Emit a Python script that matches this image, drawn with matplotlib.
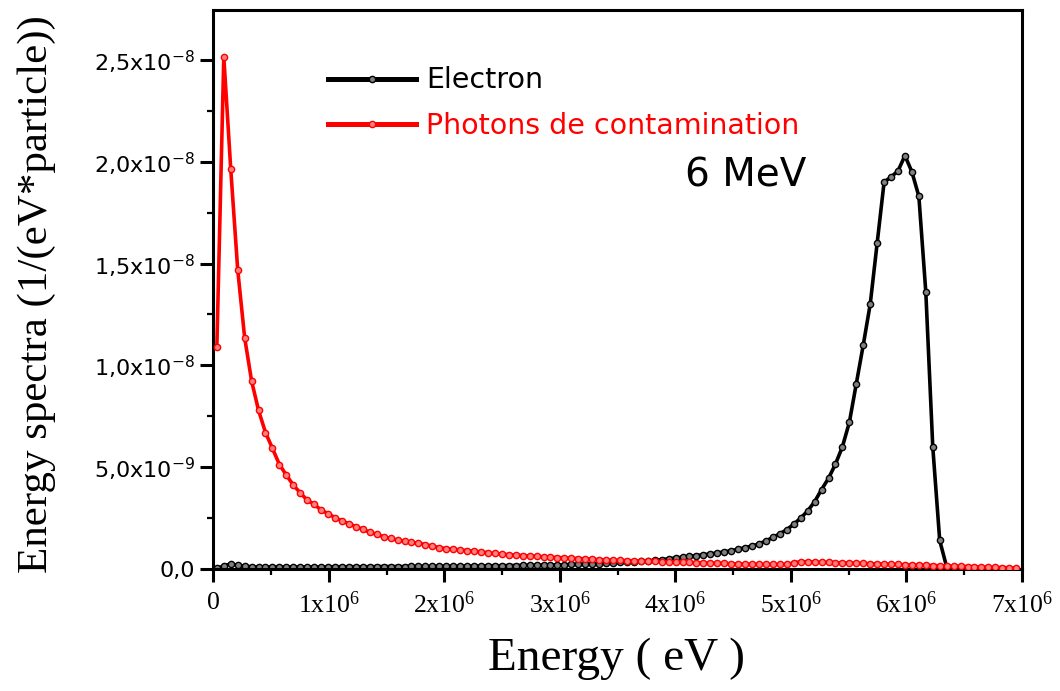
import numpy as np
import matplotlib
matplotlib.use("Agg")
import matplotlib.pyplot as plt
from matplotlib.ticker import FixedLocator, FixedFormatter, MultipleLocator

# Energy grid (bin centres, MeV)
energy_mev = np.linspace(0.03, 6.95, 116)

# Spectra in units of 1e-8 per (eV*particle)
electron = [
    0.003, 0.015, 0.025, 0.018, 0.013, 0.011, 0.010, 0.010, 0.010, 0.010,
    0.010, 0.010, 0.010, 0.010, 0.010, 0.010, 0.010, 0.011, 0.011, 0.011,
    0.011, 0.011, 0.011, 0.012, 0.012, 0.012, 0.012, 0.012, 0.013, 0.013,
    0.013, 0.013, 0.014, 0.014, 0.014, 0.014, 0.015, 0.015, 0.015, 0.016,
    0.016, 0.016, 0.017, 0.017, 0.018, 0.018, 0.019, 0.019, 0.020, 0.020,
    0.021, 0.022, 0.022, 0.023, 0.024, 0.026, 0.028, 0.030, 0.032, 0.034,
    0.036, 0.038, 0.040, 0.043, 0.046, 0.050, 0.054, 0.058, 0.062, 0.066,
    0.070, 0.074, 0.079, 0.084, 0.090, 0.097, 0.105, 0.113, 0.123, 0.138,
    0.155, 0.173, 0.193, 0.220, 0.250, 0.285, 0.330, 0.390, 0.445, 0.515,
    0.600, 0.720, 0.910, 1.100, 1.300, 1.600, 1.900, 1.925, 1.955, 2.030,
    1.950, 1.830, 1.360, 0.600, 0.140, 0.010, 0.0, 0.0, 0.0, 0.0,
    0.0, 0.0, 0.0, 0.0, 0.0, 0.0,
]

photons = [
    1.090, 2.515, 1.964, 1.470, 1.136, 0.923, 0.779, 0.670, 0.592, 0.513,
    0.461, 0.412, 0.374, 0.338, 0.318, 0.289, 0.272, 0.252, 0.236, 0.222,
    0.208, 0.195, 0.180, 0.170, 0.158, 0.150, 0.142, 0.136, 0.130, 0.126,
    0.120, 0.112, 0.105, 0.100, 0.097, 0.094, 0.090, 0.087, 0.084, 0.080,
    0.076, 0.073, 0.070, 0.068, 0.066, 0.064, 0.062, 0.060, 0.058, 0.056,
    0.055, 0.053, 0.051, 0.050, 0.048, 0.046, 0.045, 0.043, 0.042, 0.041,
    0.040, 0.039, 0.038, 0.037, 0.036, 0.035, 0.034, 0.033, 0.032, 0.031,
    0.030, 0.029, 0.028, 0.027, 0.026, 0.025, 0.024, 0.023, 0.023, 0.022,
    0.022, 0.022, 0.023, 0.030, 0.036, 0.035, 0.034, 0.033, 0.032, 0.031,
    0.030, 0.029, 0.028, 0.027, 0.026, 0.025, 0.024, 0.023, 0.022, 0.021,
    0.020, 0.019, 0.018, 0.017, 0.016, 0.015, 0.014, 0.013, 0.012, 0.011,
    0.010, 0.009, 0.008, 0.007, 0.006, 0.005,
]

x_ticks = [0, 1e6, 2e6, 3e6, 4e6, 5e6, 6e6, 7e6]
x_tick_labels = ["0", r"1x10$\mathregular{^{6}}$", r"2x10$\mathregular{^{6}}$",
                 r"3x10$\mathregular{^{6}}$", r"4x10$\mathregular{^{6}}$",
                 r"5x10$\mathregular{^{6}}$", r"6x10$\mathregular{^{6}}$",
                 r"7x10$\mathregular{^{6}}$"]
y_ticks = [0, 0.5e-8, 1.0e-8, 1.5e-8, 2.0e-8, 2.5e-8]
y_tick_labels = ["0,0", r"5,0x10$\mathregular{^{-9}}$", r"1,0x10$\mathregular{^{-8}}$",
                 r"1,5x10$\mathregular{^{-8}}$", r"2,0x10$\mathregular{^{-8}}$",
                 r"2,5x10$\mathregular{^{-8}}$"]

series_labels = ["Electron", "Photons de contamination"]
series_colors = ["black", "#ff0000"]
marker_faces = ["#808080", "#ff8080"]

fig = plt.figure(figsize=(10.6, 6.91), dpi=100)
ax = fig.add_axes([0.2013, 0.1766, 0.7628, 0.8089])

x = energy_mev * 1e6
for vals, lab, col, mfc, z in zip([electron, photons], series_labels,
                                  series_colors, marker_faces, [2, 3]):
    ax.plot(x, np.array(vals) * 1e-8, color=col, lw=2.6, marker="o", ms=4.5,
            mfc=mfc, mec=col, mew=1.0, label=lab, zorder=z, clip_on=True)

ax.set_xlim(0, 7e6)
ax.set_ylim(0, 2.745e-8)

ax.xaxis.set_major_locator(FixedLocator(x_ticks))
ax.xaxis.set_major_formatter(FixedFormatter(x_tick_labels))
ax.xaxis.set_minor_locator(MultipleLocator(0.5e6))
ax.yaxis.set_major_locator(FixedLocator(y_ticks))
ax.yaxis.set_major_formatter(FixedFormatter(y_tick_labels))
ax.yaxis.set_minor_locator(MultipleLocator(0.25e-8))

for lab in ax.get_xticklabels():
    lab.set_fontfamily("Liberation Serif")
    lab.set_fontsize(18.5)
for lab in ax.get_yticklabels():
    lab.set_fontfamily("DejaVu Sans")
    lab.set_fontsize(16)

ax.tick_params(which="major", direction="out", length=9.5, width=2.2,
               top=False, right=False)
ax.tick_params(which="minor", direction="out", length=4.5, width=1.6,
               top=False, right=False)
ax.tick_params(axis="y", which="major", pad=3.5)
ax.tick_params(axis="x", which="major", pad=7)

for sp in ax.spines.values():
    sp.set_linewidth(2.2)

ax.set_xlabel("Energy ( eV )", fontfamily="Liberation Serif", fontsize=34)
ax.set_ylabel("Energy spectra (1/(eV*particle))", fontfamily="Liberation Serif",
              fontsize=31)
ax.xaxis.set_label_coords(0.498, -0.122)
ax.yaxis.set_label_coords(-0.195, 0.492)

leg = ax.legend(loc="upper left", bbox_to_anchor=(0.142, 0.899), frameon=False,
                prop={"family": "DejaVu Sans", "size": 20.5}, handlelength=3.1,
                handletextpad=0.35, labelspacing=0.6, borderpad=0,
                borderaxespad=0, numpoints=1)
for txt, col in zip(leg.get_texts(), series_colors):
    txt.set_color(col)
for h in leg.legend_handles:
    h.set_linewidth(3.6)

ax.text(4.08e6, 1.88e-8, "6 MeV", fontfamily="DejaVu Sans", fontsize=28,
        ha="left", va="baseline", color="black")

fig.savefig("out.png", dpi=100)
